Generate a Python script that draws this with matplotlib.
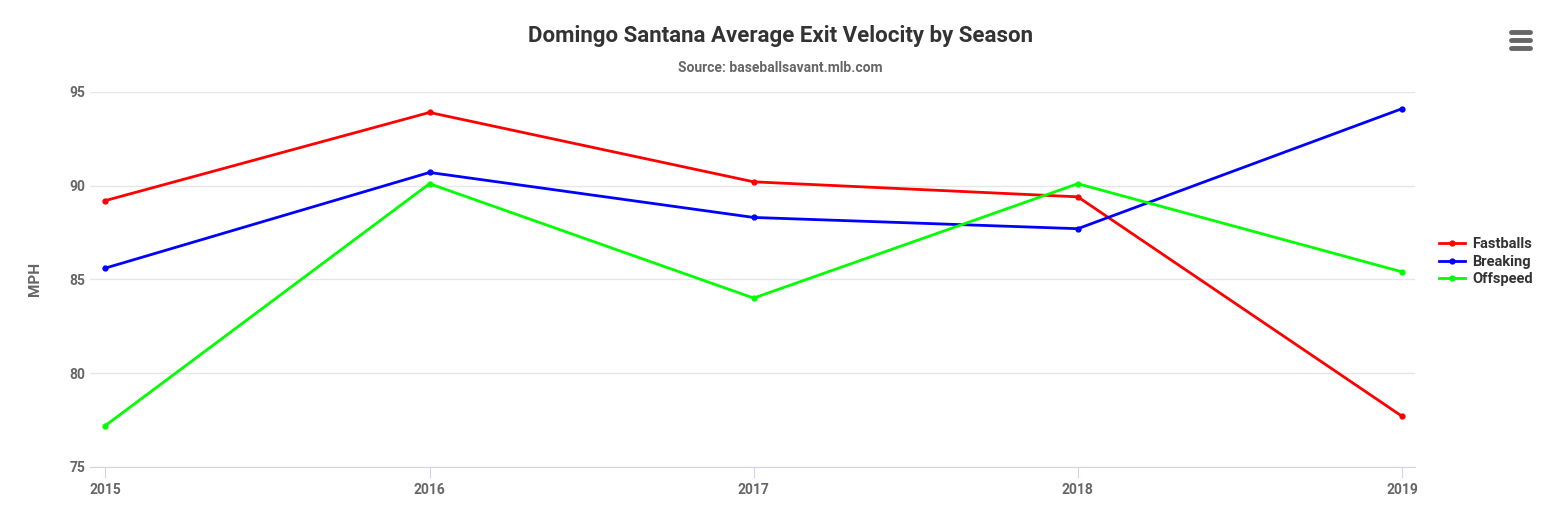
import matplotlib
matplotlib.use("Agg")
import matplotlib.pyplot as plt

years = [2015, 2016, 2017, 2018, 2019]
fastballs = [89.2, 93.9, 90.2, 89.4, 77.7]
breaking = [85.6, 90.7, 88.3, 87.7, 94.1]
offspeed = [77.2, 90.1, 84.0, 90.1, 85.4]
series = [("Fastballs", fastballs, "#ff0000"), ("Breaking", breaking, "#0000ff"), ("Offspeed", offspeed, "#00ff00")]

plt.rcParams['font.family'] = ['Roboto', 'DejaVu Sans']
fig = plt.figure(figsize=(15.6, 5.13), dpi=100)
ax = fig.add_axes([0.058, 0.090, 0.849, 0.731])
for name, vals, c in series:
    ax.plot(years, vals, color=c, lw=2, marker='o', ms=3.5, label=name)
ax.set_xlim(2014.954, 2019.04)
ax.set_ylim(75, 95)
ax.set_yticks([75, 80, 85, 90, 95])
ax.set_xticks(years)
ax.grid(axis='y', color='#e6e6e6', lw=1)
for s in ['top', 'right', 'left']:
    ax.spines[s].set_visible(False)
ax.spines['bottom'].set_color('#ccd6eb')
ax.tick_params(axis='y', length=0, colors='#666666', labelsize=10)
ax.tick_params(axis='x', colors='#666666', labelsize=10, color='#ccd6eb', length=8)
for t in ax.get_xticklabels() + ax.get_yticklabels():
    t.set_fontweight('bold')
ax.set_ylabel('MPH', color='#666666', fontsize=11, fontweight='bold', labelpad=20)
fig.text(0.5, 0.93, 'Domingo Santana Average Exit Velocity by Season', ha='center', va='center',
         fontsize=16, fontweight='bold', color='#333333')
fig.text(0.5, 0.868, 'Source: baseballsavant.mlb.com', ha='center', va='center',
         fontsize=10, fontweight='bold', color='#666666')
leg = fig.legend(loc='center left', bbox_to_anchor=(0.914, 0.49), frameon=False,
                 fontsize=10.5, handlelength=1.8, labelspacing=0.25, handletextpad=0.5)
for t in leg.get_texts():
    t.set_fontweight('bold'); t.set_color('#333333')
for yy in [0.937, 0.922, 0.907]:
    fig.add_artist(plt.Line2D([0.9685, 0.981], [yy, yy], color='#666666', lw=3.5, solid_capstyle='round'))
fig.savefig('out.png', dpi=100)
